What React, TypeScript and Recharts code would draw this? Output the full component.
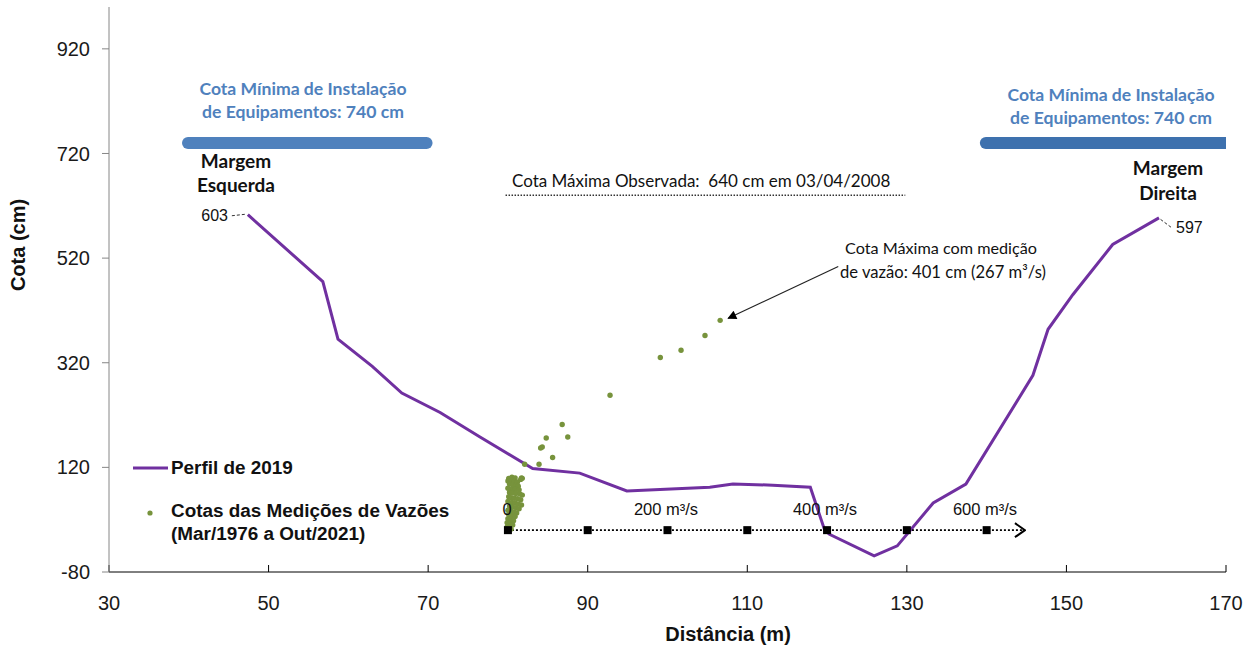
import React from 'react';
import { ComposedChart, Line, Scatter, XAxis, YAxis, ReferenceLine } from 'recharts';

// eixos
const xTicks = [30, 50, 70, 90, 110, 130, 150, 170];
const yTicks = [-80, 120, 320, 520, 720, 920];

// perfil transversal de 2019
const perfilDist = [47.4, 56.8, 58.7, 63.0, 66.7, 71.5, 76.5, 83.1, 89.0, 94.9, 105.3, 108.2, 113.2, 117.9, 119.7, 120.3, 125.9, 128.8, 133.3, 137.4, 145.8, 147.7, 150.8, 155.8, 161.6];
const perfilCota = [603, 475, 365, 313, 262, 225, 178, 118, 109, 75, 82, 88, 86, 82, 0, -8, -49, -30, 52, 88, 296, 384, 450, 546, 597];

// cotas das medições de vazão
const medDist = [
  106.6, 104.7, 101.7, 99.1, 92.8, 86.8, 87.5, 84.8, 84.3, 84.1, 85.6, 83.9, 82.1, 81.7, 80.5,
  80.1, 80.5, 80.9, 81.8, 81.6, 80.0, 80.4, 80.8, 81.2, 80.2, 80.6, 81.0, 81.3, 80.0, 80.5, 80.9, 81.4,
  80.2, 80.6, 81.0, 81.5, 81.8, 80.1, 80.4, 80.8, 81.2, 81.6, 80.0, 80.5, 80.9, 81.3, 81.7,
  80.2, 80.6, 81.0, 81.4, 80.0, 80.4, 80.8, 81.1, 80.1, 80.5, 80.9, 80.0, 80.4, 80.7,
  79.9, 80.3, 80.6, 79.9, 80.2, 80.4,
];
const medCota = [
  401, 372, 344, 330, 258, 202, 178, 176, 159, 157, 139, 126, 126, 100, 96,
  99, 101, 100, 99, 97, 94, 95, 93, 92, 88, 87, 86, 84, 80, 79, 78, 77,
  72, 71, 70, 69, 67, 64, 62, 61, 60, 58, 55, 53, 52, 50, 48,
  46, 44, 43, 41, 38, 36, 35, 33, 30, 28, 26, 22, 20, 18,
  14, 12, 10, 6, 4, 2,
];

// régua de vazões (0 a 600 m³/s)
const vazaoDist = [80, 90, 100, 110, 120, 130, 140];
const vazaoCota = [0, 0, 0, 0, 0, 0, 0];
const vazaoFim = 144.8;

const cotaMinima = 740;
const cotaMaxObs = 640;

const perfil = perfilDist.map((x, i) => ({ x, y: perfilCota[i] }));
const medicoes = medDist.map((x, i) => ({ x, y: medCota[i] }));
const vazao = vazaoDist.map((x, i) => ({ x, y: vazaoCota[i] }));

const ARIAL = '"Liberation Sans", Arial, sans-serif';
const CALIBRI = 'Lato, Carlito, Calibri, sans-serif';
const ROXO = '#7030a0';
const VERDE = '#77933c';
const AZUL = '#4f81bd';

const GreenDot = (p: any) => <circle cx={p.cx} cy={p.cy} r={2.7} fill={VERDE} />;
const Square = (p: any) => <rect x={p.cx - 4} y={p.cy - 4} width={8} height={8} fill="#000" />;

export default function App() {
  return (
    <div style={{ position: 'absolute', left: 0, top: 0, width: 1258, height: 651, background: '#fff' }}>
      <ComposedChart width={1258} height={651} margin={{ top: 7, right: 32, bottom: 49, left: 49 }}>
        <XAxis
          type="number"
          dataKey="x"
          domain={[30, 170]}
          ticks={xTicks}
          allowDataOverflow
          height={30}
          tickSize={-7}
          tickMargin={31}
          axisLine={{ stroke: '#000' }}
          tickLine={{ stroke: '#000' }}
          tick={{ fill: '#1a1a1a', fontSize: 20, fontFamily: ARIAL }}
        />
        <YAxis
          type="number"
          dataKey="y"
          domain={[-80, 1000]}
          ticks={yTicks}
          allowDataOverflow
          width={60}
          tickSize={7}
          tickMargin={12}
          axisLine={{ stroke: '#868686' }}
          tickLine={{ stroke: '#868686' }}
          tick={{ fill: '#1a1a1a', fontSize: 20, fontFamily: ARIAL }}
        />

        <ReferenceLine
          segment={[{ x: 39.9, y: cotaMinima }, { x: 69.8, y: cotaMinima }]}
          stroke={AZUL}
          strokeWidth={12}
          strokeLinecap="round"
          ifOverflow="visible"
        />
        <ReferenceLine
          segment={[{ x: 139.9, y: cotaMinima }, { x: 170, y: cotaMinima }]}
          stroke="#3e71ae"
          strokeWidth={12}
          strokeLinecap="round"
          ifOverflow="hidden"
        />
        <ReferenceLine
          segment={[{ x: 79.7, y: cotaMaxObs }, { x: 129.8, y: cotaMaxObs }]}
          stroke="#333"
          strokeWidth={1.5}
          strokeDasharray="1.5 1.5"
          ifOverflow="visible"
        />
        <ReferenceLine
          segment={[{ x: 45.4, y: 601 }, { x: 47.2, y: 604 }]}
          stroke="#333"
          strokeDasharray="3 2"
          ifOverflow="visible"
        />
        <ReferenceLine
          segment={[{ x: 161.8, y: 594 }, { x: 163.2, y: 578 }]}
          stroke="#333"
          strokeDasharray="3 2"
          ifOverflow="visible"
        />
        <ReferenceLine
          segment={[{ x: 121.4, y: 504 }, { x: 107.6, y: 405 }]}
          stroke="#222"
          strokeWidth={1.2}
          markerEnd="url(#setaCheia)"
          ifOverflow="visible"
        />

        <Line
          data={perfil}
          dataKey="y"
          type="linear"
          stroke={ROXO}
          strokeWidth={3}
          dot={false}
          activeDot={false}
          isAnimationActive={false}
        />
        <Scatter data={medicoes} dataKey="y" shape={GreenDot} isAnimationActive={false} />

        <ReferenceLine
          segment={[{ x: vazaoDist[0], y: 0 }, { x: vazaoFim, y: 0 }]}
          stroke="#000"
          strokeWidth={1.8}
          strokeDasharray="2 2"
          markerEnd="url(#setaAberta)"
          ifOverflow="visible"
        />
        <Scatter data={vazao} dataKey="y" shape={Square} isAnimationActive={false} />
      </ComposedChart>

      <svg
        width={1258}
        height={651}
        style={{ position: 'absolute', left: 0, top: 0, pointerEvents: 'none' }}
      >
        <defs>
          <marker id="setaCheia" viewBox="0 0 10 10" refX="9" refY="5" markerWidth="11" markerHeight="9" orient="auto" markerUnits="userSpaceOnUse">
            <path d="M0,0 L10,5 L0,10 z" fill="#000" />
          </marker>
          <marker id="setaAberta" viewBox="0 0 12 16" refX="11" refY="8" markerWidth="12" markerHeight="16" orient="auto" markerUnits="userSpaceOnUse">
            <path d="M1,1 L11,8 L1,15" fill="none" stroke="#000" strokeWidth="2" />
          </marker>
        </defs>

        {/* títulos dos eixos */}
        <text x={25} y={245} transform="rotate(-90 25 245)" textAnchor="middle" fontFamily={ARIAL} fontWeight="bold" fontSize={20} fill="#111">
          Cota (cm)
        </text>
        <text x={728} y={641} textAnchor="middle" fontFamily={ARIAL} fontWeight="bold" fontSize={20} fill="#111">
          Distância (m)
        </text>

        {/* cota mínima de instalação */}
        <g fontFamily={CALIBRI} fontWeight="bold" fontSize={17.6} fill={AZUL} textAnchor="middle">
          <text x={303} y={95}>Cota Mínima de Instalação</text>
          <text x={303} y={118}>de Equipamentos: 740 cm</text>
          <text x={1111} y={101}>Cota Mínima de Instalação</text>
          <text x={1111} y={124}>de Equipamentos: 740 cm</text>
        </g>

        {/* margens */}
        <g fontFamily={CALIBRI} fontWeight="bold" fontSize={19} fill="#111" textAnchor="middle">
          <text x={236} y={168}>Margem</text>
          <text x={236} y={192}>Esquerda</text>
          <text x={1168} y={175}>Margem</text>
          <text x={1168} y={200}>Direita</text>
        </g>
        <text x={228} y={221} textAnchor="end" fontFamily={ARIAL} fontSize={16} fill="#111">603</text>
        <text x={1176} y={233} fontFamily={ARIAL} fontSize={16} fill="#111">597</text>

        {/* anotações */}
        <text x={512} y={187} fontFamily={CALIBRI} fontSize={17} fill="#111" style={{ whiteSpace: 'pre' }}>
          Cota Máxima Observada:  640 cm em 03/04/2008
        </text>
        <text x={845} y={254} fontFamily={CALIBRI} fontSize={16.2} fill="#111">Cota Máxima com medição</text>
        <text x={840} y={278} fontFamily={CALIBRI} fontSize={16.6} fill="#111">de vazão: 401 cm (267 m³/s)</text>

        {/* régua de vazões */}
        <g fontFamily={ARIAL} fontSize={16.5} fill="#111" textAnchor="middle">
          <text x={507} y={515}>0</text>
          <text x={666} y={515}>200 m³/s</text>
          <text x={825} y={515}>400 m³/s</text>
          <text x={985} y={515}>600 m³/s</text>
        </g>

        {/* legenda */}
        <line x1={133} y1={468} x2={168} y2={468} stroke={ROXO} strokeWidth={3} />
        <circle cx={150} cy={513} r={2.6} fill={VERDE} />
        <g fontFamily={ARIAL} fontWeight="bold" fontSize={18.9} fill="#111">
          <text x={171} y={474}>Perfil de 2019</text>
          <text x={171} y={517}>Cotas das Medições de Vazões</text>
          <text x={171} y={540}>(Mar/1976 a Out/2021)</text>
        </g>
      </svg>
    </div>
  );
}
